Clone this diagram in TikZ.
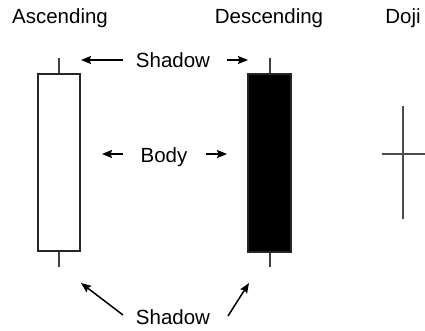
\documentclass[tikz,border=0pt]{standalone}
\usepackage{fontspec}
\setmainfont{Liberation Sans}
\usetikzlibrary{arrows.meta}
\begin{document}
\begin{tikzpicture}[x=1pt,y=-1pt,
  lbl/.style={anchor=base,inner sep=0pt,font=\fontsize{20.5}{24}\selectfont},
  candle/.style={draw=black!85,line width=1.2pt},
  wick/.style={draw=black!75,line width=1.3pt},
  doji/.style={draw=black!70,line width=1.4pt},
  pointer/.style={line width=1.5pt,-{Stealth[length=10pt,width=8pt,inset=1.5pt]}}]
\useasboundingbox (0,0) rectangle (425,330);
% titles
\node[lbl] (asc) at (60,23) {Ascending};
\node[lbl] (desc) at (269,23) {Descending};
\node[lbl] (doj) at (403,23) {Doji};
% ascending candle
\draw[wick] (59,58) coordinate (awt) -- (59,74);
\draw[wick] (59,251) -- (59,267) coordinate (awb);
\node[candle,fill=white,minimum width=42pt,minimum height=177pt,inner sep=0pt] (abody) at (59,162.5) {};
% descending candle
\draw[wick] (270,58) coordinate (dwt) -- (270,74);
\draw[wick] (270,252) -- (270,267) coordinate (dwb);
\node[candle,fill=black,minimum width=43pt,minimum height=178pt,inner sep=0pt] (dbody) at (269.5,163) {};
% doji
\draw[doji] (403,106) coordinate (djt) -- (403,219) coordinate (djb);
\draw[doji] (382,154) coordinate (djl) -- (425,154) coordinate (djr);
% labels
\node[lbl] (shtop) at (173,67) {Shadow};
\node[lbl] (body) at (164,162) {Body};
\node[lbl] (shbot) at (173,324) {Shadow};
% arrow end points
\coordinate (t1a) at (123,60); \coordinate (t1b) at (81,60);
\coordinate (t2a) at (227,60); \coordinate (t2b) at (248,60);
\coordinate (b1a) at (123,154); \coordinate (b1b) at (102,154);
\coordinate (b2a) at (206,154); \coordinate (b2b) at (227,154);
\coordinate (s1a) at (123,315); \coordinate (s1b) at (81,283);
\coordinate (s2a) at (228,316); \coordinate (s2b) at (249,283);
\draw[pointer] (t1a) -- (t1b);
\draw[pointer] (t2a) -- (t2b);
\draw[pointer] (b1a) -- (b1b);
\draw[pointer] (b2a) -- (b2b);
\draw[pointer] (s1a) -- (s1b);
\draw[pointer] (s2a) -- (s2b);
\end{tikzpicture}
\end{document}
